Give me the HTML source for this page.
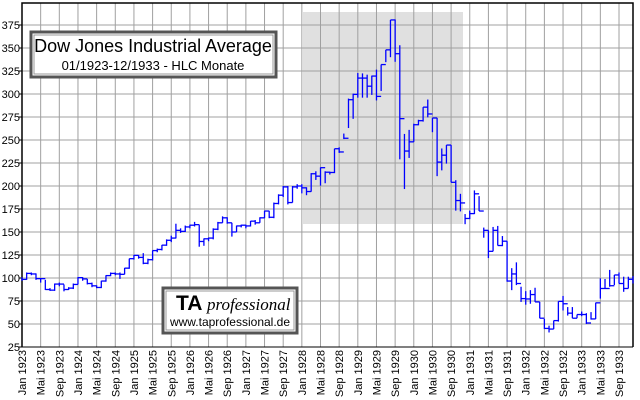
<!DOCTYPE html>
<html><head><meta charset="utf-8"><style>
body{margin:0;background:#fff;}
svg{display:block;font-family:"Liberation Sans",sans-serif;}
</style></head><body>
<svg id="chart" width="640" height="400" viewBox="0 0 640 400" xmlns="http://www.w3.org/2000/svg">
<rect x="0" y="0" width="640" height="400" fill="#fff"/>
<rect x="303" y="12" width="160" height="212" fill="#e0e0e0"/>
<g id="grid"></g>
<g id="axes"></g>
<g id="bars"></g>
<g>
<rect x="31" y="32" width="245" height="45" fill="#fff" stroke="#555" stroke-width="3"/>
<rect x="34" y="35" width="239" height="39" fill="none" stroke="#999" stroke-width="1"/>
<text x="153" y="52" font-size="18" text-anchor="middle">Dow Jones Industrial Average</text>
<text x="153" y="70" font-size="13" text-anchor="middle">01/1923-12/1933 - HLC Monate</text>
</g>
<g>
<rect x="163" y="288" width="134" height="45" fill="#fff" stroke="#555" stroke-width="3"/>
<rect x="166" y="291" width="128" height="39" fill="none" stroke="#999" stroke-width="1"/>
<text x="176" y="310" font-size="21" font-weight="bold">TA</text>
<text x="207" y="310" font-size="17" font-style="italic" font-family="Liberation Serif, serif">professional</text>
<text x="230" y="326" font-size="12" text-anchor="middle">www.taprofessional.de</text>
</g>
</svg>
<script>
const highs = [101,106,106,105,100,98,89,94,95,93,90,94,
101,101,99,95,92,97,103,106,106,106,111,121,
125,125,127,121,130,132,136,142,146,159,154,157,
158,161,158,143,144,154,161,167,166,160,157,158,
158,162,163,166,173,173,182,191,200,200,200,202,
202,198.6,214,216,220.2,216,215.5,240.5,242,257,295,300.4,
322.8,322.4,321,320,326.5,332,348,380.5,381,353,256.6,261,
267.7,272,285.7,294,274,274,240.8,244.5,244.5,206.3,191.5,169.5,
173.2,195.2,189,154.8,151.8,155.5,156.6,145.6,140,110.7,117,90.5,
85.7,86.8,89.4,74,55.5,48.2,53.7,74.6,80.5,68.4,68.4,60.3,
63.6,61.8,62.9,73.2,99.6,98.9,108.8,103.3,106,101.4,101.4,102];
const lows = [97,98,103,98,95,87,86,86,91,85.5,87,88,
93,97,93,90,89,89,96,102,103,99,104,110,
120,121,115,115,119,128,130,135,139,143,149,150,
154,156,134,135,140,142,152,160,159,145,150,155,
154,156,158,160,165,165,165,180,188,180,182,197,
192,190,193.8,206.6,200.4,203,212.5,214,236,251,263,273,
296,296,296,299,293,303.3,334.6,340,335,229,196.7,230.5,
248,266,270,274.6,258.5,210.7,217,224.3,204,173.2,172.4,158.5,
164,169.5,172.8,143.8,121.7,129,135.3,134.6,96,86.8,92.3,74,
71,72,74,56.3,44.5,40.8,44.5,52.6,64.7,59.2,56.3,56.3,
58.5,50,54.8,55.5,77.6,88.6,90.5,92.3,94,85,88.6,94];
const closes = [98.5,105,104.4,99.3,99.3,87.5,86.8,93.4,93.4,87.5,89,93,
100.4,99,94,91.5,89.7,96.7,102.6,105,104.4,104,110.7,121,
124.6,122.4,116,119.9,129.8,131,135.7,141,143.4,151.8,150.7,155.5,
157.4,158,139.7,142.6,143.4,153,160,165.4,160,150,156.6,157.4,
156.6,161.8,160,165.4,172.8,166,181,190,199,182,199,200,
198,194,213.3,210.7,219.9,215,214.7,240.5,237,251.9,293.8,299.6,
317.3,317.3,308.5,319.5,297.4,332,348,380.5,343.8,273.2,238,248,
266.6,271,285.7,278.3,273.9,226,233.5,244.5,204,184.2,181.6,164.7,
170,191.5,172.8,151.8,129,151.8,135.3,140,96.7,104.4,94,77.6,
77.2,82,74,56.3,45.2,44.5,53.7,74.6,72,61.8,56.3,60.3,
60.3,51.1,55.5,73,88.6,88.6,91.6,103.3,94,88.6,98.6,99.9];
const yTicks = [25,50,75,100,125,150,175,200,225,250,275,300,325,350,375];
const monthNames = ["Jan","Mai","Sep"];
const startYear = 1923;

const NS = "http://www.w3.org/2000/svg";
const X0 = 22, X1 = 633, NM = 131;
function xOf(m){ return X0 + m * (X1 - X0) / NM; }
function yOf(v){ return 25 + (375 - v) * 0.92; }
function mk(tag, attrs, parent){
  const e = document.createElementNS(NS, tag);
  for (const k in attrs) e.setAttribute(k, attrs[k]);
  parent.appendChild(e);
  return e;
}
const grid = document.getElementById('grid');
const axes = document.getElementById('axes');
const bars = document.getElementById('bars');
const yBottom = yOf(25), yTop = 3;

// horizontal grid + y labels
yTicks.forEach(v => {
  const y = yOf(v);
  const gl = mk('line', {x1:X0, x2:X1, y1:y, y2:y, stroke:'#a0a0a0', 'stroke-width':1}, grid);
  
  
  const tk = mk('line', {x1:X0-3, x2:X0, y1:y, y2:y, stroke:'#000', 'stroke-width':1}, axes);
  
  
  const t = mk('text', {x:X0-2, y:y+4, 'font-size':11, 'text-anchor':'end', fill:'#000'}, axes);
  t.textContent = String(v);
  
  
});
// vertical grid + x labels
for (let m = 0; m <= NM; m += 4) {
  const x = xOf(m);
  const gl = mk('line', {x1:x, x2:x, y1:yTop, y2:yBottom, stroke:'#a0a0a0', 'stroke-width':1}, grid);
  
  
  const label = monthNames[(m % 12) / 4] + " " + (startYear + Math.floor(m / 12));
  const t = mk('text', {x:0, y:0, 'font-size':11, 'text-anchor':'end', fill:'#000',
    transform:'translate(' + (x + 4) + ',' + (yBottom + 3) + ') rotate(-90)'}, axes);
  t.textContent = label;
  
  
}
// frame
const fr = mk('path', {d:'M'+X0+','+yBottom+' V'+yTop+' H'+X1+' V'+yBottom, fill:'none', stroke:'#000', 'stroke-width':1.5}, axes);


const bl = mk('line', {x1:X0, x2:X1, y1:yBottom, y2:yBottom, stroke:'#000', 'stroke-width':1}, axes);



// HLC bars
closes.forEach((c, m) => {
  const x = xOf(m);
  const xn = m < NM ? xOf(m + 1) : X1;
  const v = mk('line', {x1:x, x2:x, y1:yOf(highs[m]), y2:yOf(lows[m]), stroke:'#0000ff', 'stroke-width':1.3}, bars);
  
  
  const h = mk('line', {x1:x, x2:xn, y1:yOf(c), y2:yOf(c), stroke:'#0000ff', 'stroke-width':1.3}, bars);
  
  
});
</script>
</body></html>
